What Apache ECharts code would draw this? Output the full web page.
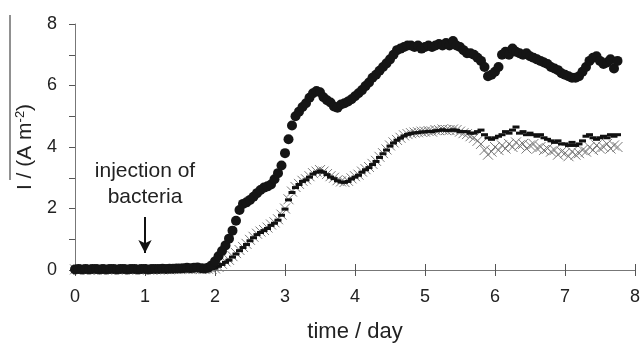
<!DOCTYPE html>
<html><head><meta charset="utf-8">
<script src="https://cdn.jsdelivr.net/npm/echarts@6/dist/echarts.min.js"></script>
<style>html,body{margin:0;padding:0;background:#fff}#c{width:643px;height:343px}</style>
</head><body><div id="c"></div>
<script>
const timeDays = [
0.00,0.05,0.10,0.15,0.20,0.25,0.30,0.35,0.40,0.45,0.50,0.55,0.60,0.65,0.70,0.75,0.80,0.85,0.90,0.95,
1.00,1.05,1.10,1.15,1.20,1.25,1.30,1.35,1.40,1.45,1.50,1.55,1.60,1.65,1.70,1.75,1.80,1.85,1.90,1.95,
2.00,2.05,2.10,2.15,2.20,2.25,2.30,2.35,2.40,2.45,2.50,2.55,2.60,2.65,2.70,2.75,2.80,2.85,2.90,2.95,
3.00,3.05,3.10,3.15,3.20,3.25,3.30,3.35,3.40,3.45,3.50,3.55,3.60,3.65,3.70,3.75,3.80,3.85,3.90,3.95,
4.00,4.05,4.10,4.15,4.20,4.25,4.30,4.35,4.40,4.45,4.50,4.55,4.60,4.65,4.70,4.75,4.80,4.85,4.90,4.95,
5.00,5.05,5.10,5.15,5.20,5.25,5.30,5.35,5.40,5.45,5.50,5.55,5.60,5.65,5.70,5.75,5.80,5.85,5.90,5.95,
6.00,6.05,6.10,6.15,6.20,6.25,6.30,6.35,6.40,6.45,6.50,6.55,6.60,6.65,6.70,6.75,6.80,6.85,6.90,6.95,
7.00,7.05,7.10,7.15,7.20,7.25,7.30,7.35,7.40,7.45,7.50,7.55,7.60,7.65,7.70,7.75];

const circleCurrent = [
0.02,0.03,0.02,0.03,0.02,0.03,0.03,0.02,0.03,0.02,0.03,0.03,0.02,0.03,0.03,0.02,0.03,0.03,0.02,0.03,
0.03,0.02,0.03,0.03,0.03,0.04,0.03,0.04,0.04,0.05,0.05,0.06,0.07,0.06,0.07,0.08,0.06,0.05,0.07,0.15,
0.28,0.45,0.62,0.80,1.02,1.28,1.60,1.95,2.15,2.20,2.28,2.38,2.50,2.60,2.68,2.72,2.78,2.95,3.15,3.40,
3.80,4.25,4.70,5.00,5.15,5.30,5.42,5.60,5.75,5.82,5.78,5.62,5.52,5.45,5.32,5.28,5.38,5.42,5.48,5.55,
5.65,5.75,5.85,5.98,6.10,6.25,6.35,6.48,6.60,6.72,6.85,7.00,7.15,7.20,7.25,7.30,7.30,7.25,7.30,7.20,
7.25,7.30,7.25,7.30,7.35,7.30,7.38,7.30,7.45,7.30,7.25,7.15,7.05,7.05,7.00,6.90,6.80,6.60,6.30,6.35,
6.45,6.60,7.00,7.10,7.00,7.20,7.10,7.05,7.00,7.05,6.95,6.90,6.85,6.80,6.75,6.70,6.60,6.55,6.50,6.40,
6.35,6.30,6.25,6.25,6.30,6.45,6.60,6.80,6.90,6.95,6.80,6.70,6.75,6.85,6.55,6.80];

const crossCurrent = [
0.02,0.01,0.02,0.02,0.01,0.02,0.02,0.01,0.02,0.02,0.01,0.02,0.02,0.01,0.02,0.02,0.01,0.02,0.02,0.02,
0.02,0.02,0.01,0.02,0.02,0.02,0.03,0.02,0.03,0.03,0.03,0.04,0.04,0.03,0.04,0.04,0.03,0.03,0.04,0.04,
0.05,0.10,0.20,0.28,0.33,0.45,0.55,0.65,0.75,0.85,0.98,1.08,1.18,1.25,1.30,1.38,1.48,1.55,1.65,1.80,
2.00,2.30,2.55,2.70,2.80,2.90,2.95,3.05,3.15,3.20,3.25,3.20,3.12,3.05,3.00,2.92,2.88,2.86,2.90,2.98,
3.05,3.10,3.20,3.28,3.35,3.45,3.55,3.68,3.80,3.92,4.05,4.15,4.23,4.30,4.38,4.42,4.45,4.47,4.48,4.50,
4.50,4.52,4.50,4.55,4.55,4.57,4.55,4.55,4.57,4.55,4.50,4.45,4.42,4.35,4.30,4.20,4.10,3.90,3.75,3.85,
4.00,3.90,4.05,3.95,4.10,4.00,4.15,4.05,4.10,3.95,4.05,4.10,3.95,4.00,3.90,3.95,3.85,3.90,3.75,3.85,
3.80,3.70,3.85,3.75,3.80,3.90,3.85,4.00,3.90,4.05,3.95,4.00,4.10,3.95,4.05,4.00];

const dashCurrent = [
0.02,0.02,0.02,0.01,0.02,0.02,0.01,0.02,0.02,0.02,0.02,0.01,0.02,0.02,0.02,0.01,0.02,0.02,0.02,0.02,
0.02,0.02,0.02,0.02,0.03,0.02,0.03,0.03,0.03,0.03,0.04,0.04,0.03,0.04,0.04,0.03,0.04,0.03,0.04,0.05,
0.06,0.12,0.18,0.25,0.32,0.42,0.52,0.63,0.73,0.83,0.95,1.05,1.15,1.22,1.28,1.35,1.45,1.52,1.62,1.78,
1.98,2.28,2.52,2.68,2.78,2.88,2.93,3.02,3.12,3.18,3.22,3.18,3.10,3.02,2.97,2.90,2.86,2.85,2.88,2.96,
3.02,3.08,3.18,3.26,3.33,3.43,3.53,3.66,3.78,3.90,4.03,4.13,4.22,4.29,4.36,4.41,4.44,4.46,4.47,4.49,
4.49,4.51,4.50,4.53,4.54,4.56,4.54,4.54,4.56,4.54,4.50,4.50,4.50,4.45,4.45,4.50,4.55,4.40,4.30,4.25,
4.30,4.35,4.40,4.50,4.45,4.55,4.65,4.45,4.50,4.40,4.45,4.40,4.35,4.40,4.30,4.25,4.20,4.15,4.20,4.10,
4.10,4.05,4.15,4.05,4.10,4.20,4.35,4.40,4.30,4.25,4.30,4.35,4.30,4.40,4.35,4.40];

const xTicks = [0,1,2,3,4,5,6,7,8];
const yTickLabels = [0,2,4,6,8];

const pairs = (xs, ys) => xs.map((x, i) => [x, ys[i]]);
const FONT = 'Liberation Sans, Arial, sans-serif';

const chart = echarts.init(document.getElementById('c'), null, {renderer: 'canvas'});
chart.setOption({
  animation: false,
  backgroundColor: '#fff',
  grid: {left: 75, right: 8, top: 24, bottom: 73, containLabel: false, outerBoundsMode: 'none'},
  xAxis: [{
    type: 'value', min: xTicks[0], max: xTicks[xTicks.length - 1], interval: 1,
    name: 'time / day', nameLocation: 'middle', nameGap: 51,
    nameTextStyle: {fontSize: 22, color: '#222', fontFamily: FONT},
    axisLine: {lineStyle: {color: '#777', width: 1}},
    axisTick: {show: true, length: 6, lineStyle: {color: '#555'}},
    axisLabel: {fontSize: 18, color: '#222', fontFamily: FONT, margin: 18},
    splitLine: {show: false}
  }, {
    type: 'value', min: 0, max: 8, interval: 1, position: 'bottom',
    axisLine: {show: false},
    axisTick: {show: true, inside: true, length: 6, lineStyle: {color: '#555'}},
    axisLabel: {show: false}, splitLine: {show: false}
  }],
  yAxis: {
    type: 'value', min: 0, max: 8, interval: 1,
    name: '{a|I / (A m}{s|-2}{a|)}', nameLocation: 'middle', nameRotate: 90, nameGap: 36,
    nameTextStyle: {
      color: '#222', fontFamily: FONT,
      rich: {
        a: {fontSize: 21, color: '#222', fontFamily: FONT},
        s: {fontSize: 13, color: '#222', fontFamily: FONT, padding: [0, 0, 11, 0]}
      }
    },
    axisLine: {show: true, lineStyle: {color: '#777', width: 1}},
    axisTick: {show: true, length: 6, lineStyle: {color: '#555'}},
    axisLabel: {fontSize: 18, color: '#222', fontFamily: FONT, margin: 18,
      formatter: v => (yTickLabels.indexOf(v) >= 0 ? String(v) : '')},
    splitLine: {show: false}
  },
  series: [{
    name: 'crosses', type: 'scatter', xAxisIndex: 0,
    data: pairs(timeDays, crossCurrent),
    symbol: 'path://M0,0L10,10M10,0L0,10', symbolSize: 10,
    itemStyle: {color: 'none', borderColor: '#7a7a7a', borderWidth: 1, opacity: 1},
    z: 2
  }, {
    name: 'dashes', type: 'scatter', xAxisIndex: 0,
    data: pairs(timeDays, dashCurrent),
    symbol: 'rect', symbolSize: [7, 3],
    itemStyle: {color: '#111', opacity: 1},
    z: 3
  }, {
    name: 'circles', type: 'scatter', xAxisIndex: 0,
    data: pairs(timeDays, circleCurrent),
    symbol: 'circle', symbolSize: 10,
    itemStyle: {color: '#151515', opacity: 1},
    z: 4,
    markLine: {
      silent: true, animation: false,
      symbol: ['none', 'arrow'], symbolSize: [10, 13],
      lineStyle: {color: '#111', width: 2, type: 'solid', opacity: 1},
      label: {show: false},
      data: [[{coord: [1, 1.72]}, {coord: [1, 0.55]}]]
    }
  }],
  graphic: [
    {type: 'text', style: {text: 'injection of', x: 145, y: 171, align: 'center', verticalAlign: 'middle', fontSize: 21, fontFamily: FONT, fill: '#222'}},
    {type: 'text', style: {text: 'bacteria', x: 145, y: 197, align: 'center', verticalAlign: 'middle', fontSize: 21, fontFamily: FONT, fill: '#222'}},
    {type: 'line', shape: {x1: 10, y1: 15, x2: 10, y2: 180}, style: {stroke: '#222', lineWidth: 1}}
  ]
});
</script></body></html>
